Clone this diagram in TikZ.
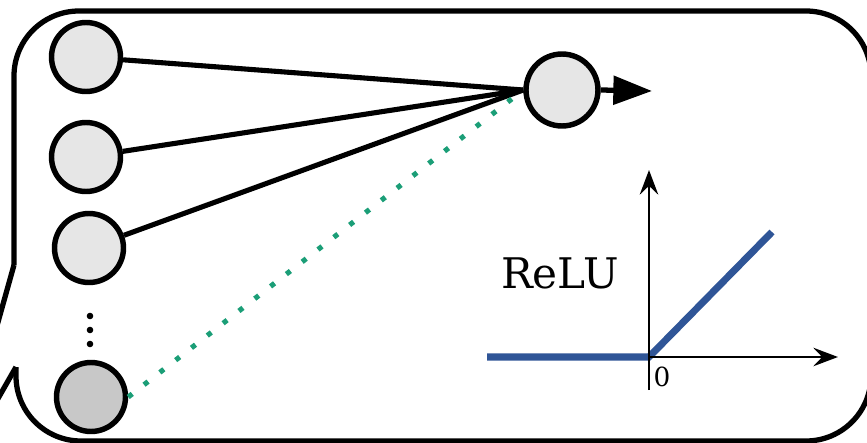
\documentclass[tikz,border=0pt]{standalone}
\usepackage{fontspec}
\setmainfont{DejaVu Serif}
\usetikzlibrary{arrows.meta}

\definecolor{neurongray}{HTML}{E6E6E6}
\definecolor{biasgray}{HTML}{C8C8C8}
\definecolor{dotgreen}{HTML}{1B9E77}
\definecolor{relublue}{HTML}{2F5597}

\tikzset{
    neuron/.style={circle, draw, line width=3.1pt, fill=neurongray, minimum size=1.38cm, inner sep=0pt},
    edge/.style={line width=2.9pt},
    frame/.style={line width=3pt, line join=round},
    axis/.style={line width=1.7pt, -{Stealth[length=14pt, width=10.5pt, inset=5pt]}}
}

\begin{document}
\begin{tikzpicture}[x=0.02cm, y=-0.02cm]
                \useasboundingbox (0,0) rectangle (867,443);
                \clip (0,0) rectangle (867,443);

                % Draw the speech bubble frame
                \draw[frame, rounded corners=1.3cm] (16,367) -- (16,441) -- (871,441) -- (871,11) -- (14,11) -- (14,265);
                \draw[frame] (16,367) -- (-44,472) -- (14,265);

                % Draw input neurons
                \node[neuron] (in1) at (86,57) {};
                \node[neuron] (in2) at (86,157) {};
                \node[neuron] (in3) at (89,248) {};
                \node[neuron, fill=biasgray] (in4) at (91,397) {};

                % Draw the vertical dots
                \fill (90,316) circle (3.3);
                \fill (90,330) circle (3.3);
                \fill (90,344) circle (3.3);

                % Draw output neuron
                \node[neuron, minimum size=1.44cm] (out) at (562,90) {};
                \coordinate (outend) at (652,91);

                % Draw edges from inputs to output
                \draw[edge] (in1) -- (out.west);
                \draw[edge] (in2) -- (out.west);
                \draw[edge] (in3) -- (out.west);
                \draw[dotgreen, line width=2.9pt, dash pattern=on 2.9pt off 8.5pt, shorten >=4pt] (in4.east) -- (out.west);

                % Draw the output arrow
                \draw[line width=3pt, -{Triangle[length=22pt, width=16pt]}] (out.east) -- (outend);

                % Draw the ReLU plot
                \coordinate (origin) at (649,357);
                \coordinate (xleft) at (487,357);
                \coordinate (xend) at (838,357);
                \coordinate (ybot) at (649,390);
                \coordinate (ytop) at (649,170);
                \coordinate (reluend) at (772,232);

                \draw[relublue, line width=4pt] (xleft) -- (origin) -- (reluend);
                \draw[axis] (ybot) -- (ytop);
                \draw[axis] (origin) -- (xend);

                \node[font=\fontsize{24}{28}\selectfont] (relu) at (560,273) {ReLU};
                \node[font=\fontsize{15}{18}\selectfont] (zero) at (662,377) {0};

\end{tikzpicture}
\end{document}
